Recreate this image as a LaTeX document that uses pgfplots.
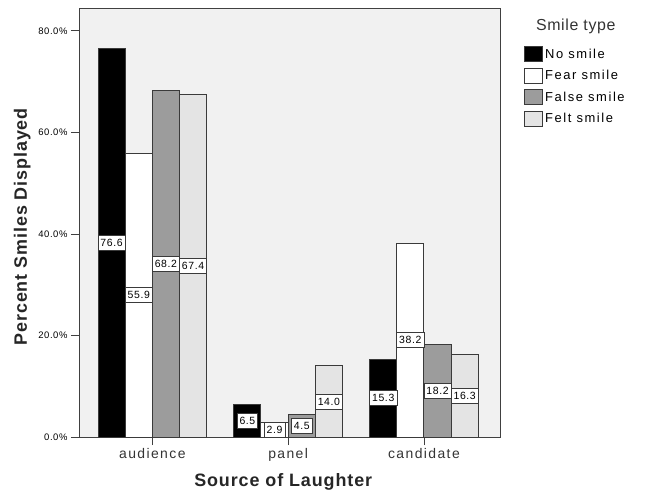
\documentclass[border=0pt]{standalone}
\usepackage{fontspec}
\setmainfont{Liberation Sans}
\usepackage{pgfplots}
\pgfplotsset{compat=1.18}
\usepackage{pgfplotstable}
\definecolor{bgc}{HTML}{F1F1F1}
\definecolor{falsec}{HTML}{9C9C9C}
\definecolor{feltc}{HTML}{E4E4E4}
\definecolor{edge}{HTML}{3A3A3A}

\pgfplotstableread{
x nosmile fear false felt
0 76.6 55.9 68.2 67.4
1 6.5 2.9 4.5 14.0
2 15.3 38.2 18.2 16.3
}\smiles

\pgfplotsset{
  barleg/.style={legend image code/.code={\draw[##1, line width=1bp] (0bp,-7.5bp) rectangle (18bp,7.5bp);}},
  lab/.style={forget plot, draw=none, mark=none,
    nodes near coords={\pgfmathprintnumber[fixed,fixed zerofill,precision=1,assume math mode=true]{\pgfplotspointmeta}},
    point meta=explicit,
    every node near coord/.style={anchor=center, fill=white, draw=edge, line width=0.6bp,
      inner xsep=2.5bp, inner ysep=0pt, minimum height=15bp,
      font=\fontsize{10.5}{10.5}\selectfont\addfontfeature{LetterSpace=6}}},
}

\begin{document}
\begin{tikzpicture}
\begin{axis}[
  at={(0,0)}, anchor=south west,
  scale only axis, width=421bp, height=429bp,
  xmin=-0.54, xmax=2.56, ymin=0, ymax=84.5,
  axis background/.style={fill=bgc},
  axis line style={draw=black!75, line width=0.8bp},
  xtick={0,1,2}, xticklabels={audience,panel,candidate},
  ytick={0,20,40,60,80},
  yticklabel={\pgfmathprintnumber[fixed,fixed zerofill,precision=1,assume math mode=true]{\tick}\%},
  tick align=outside, xtick pos=left, ytick pos=left,
  major tick length=8bp,
  tick style={draw=black!75, line width=0.8bp},
  yticklabel style={font=\fontsize{9.5}{9.5}\selectfont\addfontfeature{LetterSpace=6}},
  xticklabel style={font=\fontsize{14}{14}\selectfont\addfontfeature{LetterSpace=10}, color=black!80},
  xlabel={Source of Laughter},
  ylabel={Percent Smiles Displayed},
  label style={font=\fontsize{18}{18}\selectfont\bfseries\addfontfeature{LetterSpace=5}, color=black!85},
  xlabel style={at={(axis description cs:0.485,-0.105)}, anchor=center},
  ylabel style={at={(axis description cs:-0.135,0.49)}, anchor=center},
  legend style={at={(axis description cs:1.057,0.911)}, anchor=north west, draw=none, fill=none,
    inner sep=0pt, row sep=5.5bp, font=\fontsize{13}{13}\selectfont\addfontfeature{LetterSpace=12},
    cells={anchor=west}},
  legend cell align=left,
  clip=false,
]
\addplot[ybar, bar width=0.2, bar shift=-0.3, fill=black, draw=edge, line width=1bp, barleg] table[x=x,y=nosmile]{\smiles};
\addlegendentry{No smile}
\addplot[ybar, bar width=0.2, bar shift=-0.1, fill=white, draw=edge, line width=1bp, barleg] table[x=x,y=fear]{\smiles};
\addlegendentry{Fear smile}
\addplot[ybar, bar width=0.2, bar shift=0.1, fill=falsec, draw=edge, line width=1bp, barleg] table[x=x,y=false]{\smiles};
\addlegendentry{False smile}
\addplot[ybar, bar width=0.2, bar shift=0.3, fill=feltc, draw=edge, line width=1bp, barleg] table[x=x,y=felt]{\smiles};
\addlegendentry{Felt smile}

\addplot[lab] table[x expr=\thisrow{x}-0.3, y expr=\thisrow{nosmile}/2, meta=nosmile]{\smiles};
\addplot[lab] table[x expr=\thisrow{x}-0.1, y expr=\thisrow{fear}/2, meta=fear]{\smiles};
\addplot[lab] table[x expr=\thisrow{x}+0.1, y expr=\thisrow{false}/2, meta=false]{\smiles};
\addplot[lab] table[x expr=\thisrow{x}+0.3, y expr=\thisrow{felt}/2, meta=felt]{\smiles};

\node[font=\fontsize{16}{16}\selectfont\addfontfeature{LetterSpace=4}, color=black!80] at (axis description cs:1.18,0.956) {Smile type};
\end{axis}
\pgfresetboundingbox
\path (-79bp,-56bp) rectangle (571bp,437bp);
\end{tikzpicture}
\end{document}
